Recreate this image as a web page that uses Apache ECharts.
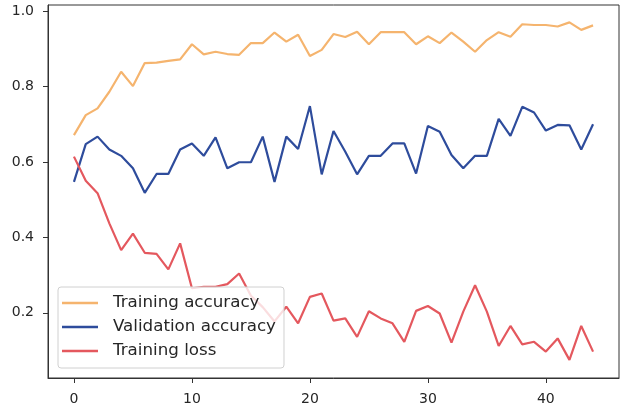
<!DOCTYPE html>
<html>
<head>
<meta charset="utf-8">
<script src="https://cdn.jsdelivr.net/npm/echarts@6/dist/echarts.min.js"></script>
<style>html,body{margin:0;padding:0;background:#fff;}#c{width:620px;height:414px;}</style>
</head>
<body>
<div id="c"></div>
<script>
const epochs = Array.from({length: 45}, (_, i) => i);
const trainingAccuracy = [0.671,0.724,0.742,0.786,0.839,0.801,0.862,0.863,0.868,0.872,
  0.912,0.885,0.892,0.886,0.884,0.915,0.915,0.943,0.919,0.937,
  0.881,0.897,0.939,0.931,0.945,0.912,0.944,0.944,0.944,0.912,
  0.933,0.915,0.943,0.919,0.892,0.923,0.944,0.932,0.965,0.963,
  0.963,0.959,0.970,0.950,0.962];
const validationAccuracy = [0.547,0.647,0.667,0.633,0.616,0.583,0.518,0.568,0.568,0.633,
  0.649,0.616,0.665,0.583,0.599,0.599,0.667,0.547,0.667,0.634,
  0.748,0.567,0.682,0.627,0.567,0.616,0.616,0.649,0.649,0.569,
  0.695,0.680,0.618,0.583,0.616,0.616,0.714,0.669,0.746,0.731,
  0.683,0.698,0.697,0.633,0.700];
const trainingLoss = [0.614,0.550,0.517,0.437,0.366,0.410,0.359,0.356,0.315,0.384,
  0.265,0.269,0.269,0.276,0.304,0.245,0.215,0.177,0.216,0.172,
  0.242,0.251,0.179,0.185,0.136,0.204,0.185,0.172,0.123,0.205,
  0.218,0.198,0.121,0.203,0.273,0.203,0.112,0.165,0.116,0.123,
  0.097,0.132,0.075,0.165,0.097];
const xTicks = [0, 10, 20, 30, 40];
const yTicks = [0.2, 0.4, 0.6, 0.8, 1.0];

const seriesDefs = [
  {name: 'Training accuracy', data: trainingAccuracy, color: '#F5B46E'},
  {name: 'Validation accuracy', data: validationAccuracy, color: '#2E4C9C'},
  {name: 'Training loss', data: trainingLoss, color: '#E4585E'}
];

const chart = echarts.init(document.getElementById('c'), null, {renderer: 'canvas'});
const font = 'DejaVu Sans';
chart.setOption({
  animation: false,
  grid: {left: 48, top: 5, right: 1, bottom: 36, show: true, borderColor: '#333', borderWidth: 1, backgroundColor: 'transparent'},
  xAxis: {
    type: 'value', min: -2.2, max: 46.2,
    splitLine: {show: false},
    axisLine: {show: true, onZero: false, lineStyle: {color: '#333', width: 1}},
    axisTick: {show: true, inside: false, length: 5, lineStyle: {color: '#333'}, customValues: xTicks},
    axisLabel: {customValues: xTicks, color: '#262626', fontFamily: font, fontSize: 14, margin: 14},
  },
  yAxis: {
    type: 'value', min: 0.027, max: 1.016,
    splitLine: {show: false},
    axisLine: {show: true, onZero: false, lineStyle: {color: '#333', width: 1}},
    axisTick: {show: true, inside: false, length: 5, lineStyle: {color: '#333'}, customValues: yTicks},
    axisLabel: {customValues: yTicks, color: '#262626', fontFamily: font, fontSize: 14, margin: 14,
      formatter: v => v.toFixed(1)},
  },
  legend: {
    show: true, orient: 'vertical', left: 58, top: 287,
    data: seriesDefs.map(s => s.name),
    icon: 'rect', itemWidth: 36, itemHeight: 2.5, itemGap: 4,
    backgroundColor: 'rgba(255,255,255,0.8)', borderColor: '#d0d0d0', borderWidth: 1, borderRadius: 3,
    padding: [6, 8, 7, 4],
    textStyle: {fontFamily: font, fontSize: 16.7, color: '#262626', lineHeight: 20, padding: [0, 0, 0, 10]},
    z: 10
  },
  series: seriesDefs.map(s => ({
    name: s.name, type: 'line', symbol: 'none', smooth: false,
    data: epochs.map((e, i) => [e, s.data[i]]),
    lineStyle: {color: s.color, width: 2.2},
    itemStyle: {color: s.color},
    z: 2
  }))
});
</script>
</body>
</html>
